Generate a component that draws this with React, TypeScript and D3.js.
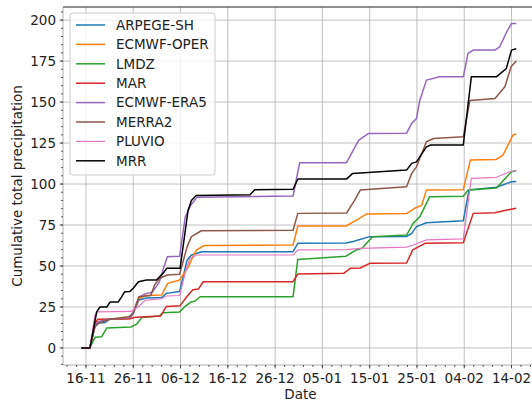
import React from "react";
import * as d3 from "d3";

const W = 532;
const H = 403;
const margin = { left: 63, top: 7, right: -6, bottom: 38 };

// days counted from 16-11
const start = new Date(2019, 10, 16);
const tickDays = [0, 10, 20, 30, 40, 50, 60, 70, 80, 90];
const yTicks = [0, 25, 50, 75, 100, 125, 150, 175, 200];

const names = ["ARPEGE-SH", "ECMWF-OPER", "LMDZ", "MAR", "ECMWF-ERA5", "MERRA2", "PLUVIO", "MRR"];
const colors = ["#1f77b4", "#ff7f0e", "#2ca02c", "#d62728", "#9467bd", "#8c564b", "#e377c2", "#000000"];

const arpege = [[-1,0],[0.8,0],[1.9,13],[2.6,15],[4,15.5],[5,17.5],[9.3,18],[10,21],[11.2,29.3],[12.8,30.5],[16,30.8],[17,33.3],[19.8,34.5],[21.4,53.7],[22.3,56.7],[24.5,58.7],[43.8,58.7],[44.8,63.8],[55,64],[56.5,65],[60,67.9],[67.8,68],[68.9,69.9],[69.9,74],[72,76.4],[79.8,77.6],[81,96.3],[86.8,98],[90,101.4],[91,101.5]];
const oper = [[-1,0],[0.8,0],[1.9,14],[2.6,16],[5,17.5],[9.3,18],[10,22],[11.2,30],[12.5,32],[16,32.3],[17.3,39.4],[19.8,41.5],[21.7,49.6],[22.6,55.7],[23.4,59.8],[25,62.5],[43.8,62.8],[44.8,74.4],[55,74.4],[57.2,78],[59.3,81.7],[67.8,82],[69.5,85.2],[71,87],[72,96.3],[79.8,96.5],[81.3,114.6],[86.8,115],[88.2,117.7],[90.3,129.9],[91,130.5]];
const lmdz = [[-1,0],[0.8,0],[1.9,6.5],[3.3,6.8],[4.4,12.2],[9.5,12.8],[10.7,14.5],[11.8,18.5],[15.5,19.5],[16.3,21.5],[19.8,22],[21,25.5],[22.2,28],[23,28.5],[24.2,31.3],[43.8,31.3],[44.8,54],[55,56],[57.2,59.8],[58.4,60.8],[60.6,67.9],[67.8,68.9],[69.2,76],[70.6,80],[72.7,92.3],[79.8,92.5],[80.8,96.3],[86.8,97.6],[90,107.5],[91,108.1]];
const mar = [[-1,0],[0.8,0],[1.9,15],[2.5,17.5],[9.3,17.8],[10.5,18.8],[15.8,19.5],[17,25.3],[19.9,25.8],[21.4,31.5],[22.6,35.5],[23.8,36],[24.8,40.4],[43.8,40.4],[44.8,45.1],[54.5,45.5],[55.9,48.6],[58,48.8],[60,51.6],[67.8,51.8],[69.1,59.8],[71.7,63.8],[79.8,64.2],[81.9,82.1],[86.5,82.5],[89,84.1],[91,85.2]];
const era5 = [[-1,0],[0.8,0],[1.9,14],[2.6,16],[5,17.5],[9.3,18.5],[10,22],[11.2,31],[12.5,33],[14,34],[15.5,40],[16.5,49.6],[17.2,55.7],[19.8,56],[21,80],[22.2,87.2],[23.5,92],[43.8,92.7],[45.2,113],[55.1,113],[57.7,126.8],[59.8,130.9],[67.8,131],[68.9,137],[69.9,140],[70.6,151],[72,163.4],[74.8,165.4],[79.8,165.4],[80.8,179.7],[81.9,181.7],[86.5,181.7],[87.5,183.7],[89,192.9],[90,198],[91,198]];
const merra2 = [[-1,0],[0.8,0],[1.9,13],[2.6,15],[5,17.5],[9,19],[10,21.1],[11.2,31.3],[13.7,32],[14.5,38.4],[15.6,42.5],[17.2,44.5],[19.8,45],[21.4,61.8],[22.3,67.9],[24.4,71.5],[43.8,71.8],[44.8,82.1],[55.1,82.3],[56.8,90],[58,96.3],[67.8,98.4],[68.9,106.5],[69.9,110.5],[72,125.8],[73.5,127.8],[79.8,128.8],[81.2,151],[86.5,152.2],[88.6,159.3],[89.9,171.5],[91,175]];
const pluvio = [[-1,0],[0.8,0],[1.9,20],[2.5,22],[9.5,22.3],[11,25],[12.5,29],[16,30],[17,31.7],[19.8,32],[21,46],[22,54.7],[23.5,56.7],[43.8,56.7],[44.8,59.8],[55,60],[58,60.8],[67.8,61.5],[69.2,62.8],[72,65.9],[79.8,66.5],[81.5,103.5],[86.8,104.1],[89.6,107.5],[91,108.1]];
const mrr = [[-1,0],[0.85,0],[2.26,22],[2.96,25],[4.4,25],[5.1,28],[6.8,28],[7.5,31],[8.2,34.3],[9.3,34.5],[10,36.4],[11.1,40.4],[12.8,41.5],[14.9,41.5],[16.3,45.5],[17.1,48.6],[19.9,48.6],[21.6,84],[22.3,90],[23.3,93],[34.7,93.5],[35.7,96.5],[43.8,96.8],[44.8,103],[55.1,103],[56.4,106.5],[67.8,108.5],[68.9,112.6],[69.9,113.5],[72,122.7],[72.9,123.8],[79.8,123.8],[81.5,165.4],[86.8,165.4],[88.9,170.5],[90,181.7],[91,182.5]];

const series = [arpege, oper, lmdz, mar, era5, merra2, pluvio, mrr];

const day = (d: number) => new Date(start.getTime() + d * 86400000);
const fmt = d3.timeFormat("%d-%m");

export default function App() {
  const x = d3.scaleTime().domain([day(-4.86), day(95.6)]).range([margin.left, 538]);
  const y = d3.scaleLinear().domain([-10.4, 208]).range([H - margin.bottom, margin.top]);
  const line = d3.line<number[]>().x((p) => x(day(p[0]))).y((p) => y(p[1]));
  const minorX = d3.range(-4, 96, 2);
  const minorY = d3.range(-10, 209, 5);
  const font = "DejaVu Sans, sans-serif";
  const y0 = H - margin.bottom;

  return (
    <svg width={W} height={H} style={{ position: "absolute", left: 0, top: 0, background: "#fff" }} fontFamily={font}>
      <defs>
        <clipPath id="plot">
          <rect x={margin.left} y={margin.top} width={538 - margin.left} height={y0 - margin.top} />
        </clipPath>
      </defs>
      {/* grid */}
      <g stroke="#b0b0b0" strokeWidth={0.8}>
        {tickDays.map((d) => (
          <line key={"gx" + d} x1={x(day(d))} x2={x(day(d))} y1={margin.top} y2={y0} />
        ))}
        {yTicks.map((v) => (
          <line key={"gy" + v} x1={margin.left} x2={W} y1={y(v)} y2={y(v)} />
        ))}
      </g>
      {/* series */}
      <g clipPath="url(#plot)" fill="none" strokeLinejoin="round">
        {series.map((s, i) => (
          <path key={names[i]} d={line(s) || ""} stroke={colors[i]} strokeWidth={i === 6 ? 1.2 : 1.5} />
        ))}
      </g>
      {/* spines */}
      <line x1={margin.left} x2={W} y1={margin.top} y2={margin.top} stroke="#222" strokeWidth={1.2} />
      <line x1={margin.left} x2={margin.left} y1={margin.top} y2={y0} stroke="#999" strokeWidth={0.8} />
      <line x1={margin.left} x2={W} y1={y0} y2={y0} stroke="#999" strokeWidth={0.8} />
      {/* y axis */}
      <g stroke="#333" strokeWidth={0.8}>
        {minorY.map((v) => (
          <line key={"my" + v} x1={margin.left - 2} x2={margin.left} y1={y(v)} y2={y(v)} />
        ))}
        {yTicks.map((v) => (
          <line key={"ty" + v} x1={margin.left - 3.5} x2={margin.left} y1={y(v)} y2={y(v)} />
        ))}
        {minorX.map((d) => (
          <line key={"mx" + d} x1={x(day(d))} x2={x(day(d))} y1={y0} y2={y0 + 2} />
        ))}
        {tickDays.map((d) => (
          <line key={"tx" + d} x1={x(day(d))} x2={x(day(d))} y1={y0} y2={y0 + 3.5} />
        ))}
      </g>
      <g fontSize={13.5} fill="#222">
        {yTicks.map((v) => (
          <text key={"ly" + v} x={margin.left - 7} y={y(v)} dy="0.35em" textAnchor="end">
            {v}
          </text>
        ))}
        {tickDays.map((d) => (
          <text key={"lx" + d} x={x(day(d))} y={y0 + 18} textAnchor="middle">
            {fmt(day(d))}
          </text>
        ))}
        <text x={(margin.left + 538) / 2} y={H - 4} textAnchor="middle">Date</text>
        <text transform={`translate(22,${(margin.top + y0) / 2}) rotate(-90)`} textAnchor="middle">
          Cumulative total precipitation
        </text>
      </g>
      {/* legend */}
      <g>
        <rect x={70} y={13} width={145} height={162} rx={3} fill="#fff" fillOpacity={0.8} stroke="#ccc" strokeWidth={1} />
        {names.map((n, i) => {
          const ly = 25 + i * 19.4;
          return (
            <g key={"lg" + n}>
              <line x1={76} x2={105} y1={ly} y2={ly} stroke={colors[i]} strokeWidth={i === 6 ? 1.2 : 1.5} />
              <text x={116} y={ly} dy="0.35em" fontSize={13.5} fill="#222">
                {n}
              </text>
            </g>
          );
        })}
      </g>
    </svg>
  );
}
